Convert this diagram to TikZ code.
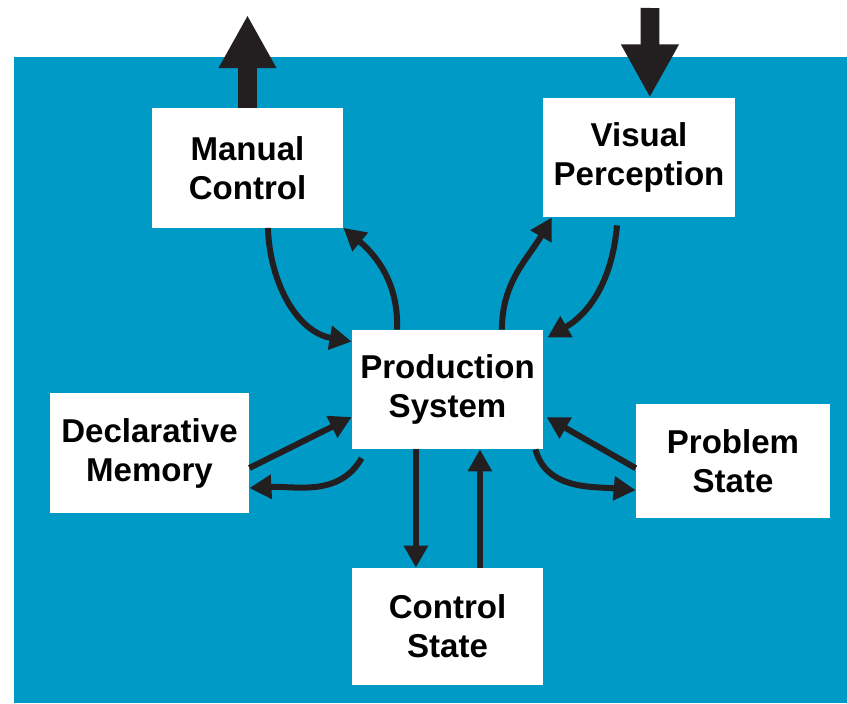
\documentclass[tikz,border=0pt]{standalone}
\usepackage{fontspec}
\setmainfont{Liberation Sans}
\usetikzlibrary{arrows.meta}
\definecolor{panelblue}{RGB}{0,154,199}
\definecolor{arrowgray}{RGB}{35,31,32}

\begin{document}
\begin{tikzpicture}[x=0.025cm, y=-0.025cm, >={Triangle[length=0.55cm, width=0.58cm]},
                    box/.style={fill=white, align=center, inner sep=0pt, minimum width=4.78cm, minimum height=2.98cm,
                                font=\fontsize{23.5}{27.7}\selectfont\bfseries},
                    link/.style={->, draw=arrowgray, line width=0.15cm},
                    bigarrow/.style={-{Triangle[length=1.33cm, width=1.35cm]}, draw=arrowgray, line width=0.47cm}]
        \useasboundingbox (0,0) rectangle (847,703);
        \fill[panelblue] (13.5,57) rectangle (847,703);
        \node[box] (manual) at (247.5,168) {Manual\\Control};
        \node[box] (visual) at (639,157.5) {Visual\\Perception};
        \node[box] (production) at (447.5,389.5) {Production\\System};
        \node[box, minimum width=4.98cm] (declarative) at (149.5,453) {Declarative\\Memory};
        \node[box, minimum width=4.85cm, minimum height=2.85cm] (problem) at (733,461) {Problem\\State};
        \node[box, minimum height=2.93cm] (control) at (447.5,626.5) {Control\\State};
        \coordinate (motor) at (247.5,15);
        \coordinate (screen) at (650,8);
        \draw[bigarrow] (manual.north) -- (motor);
        \draw[bigarrow] (screen) -- ([xshift=0.27cm]visual.north);
        \draw[link] ([xshift=0.51cm]manual.south) to [out=-88, in=170] ([yshift=-0.3cm]production.north west);
        \draw[link] ([xshift=-1.26cm]production.north) to [out=88, in=-40] (manual.south east);
        \draw[link] ([xshift=1.36cm]production.north) to [out=90, in=-120] ([xshift=0.22cm]visual.south west);
        \draw[link] ([xshift=-0.55cm, yshift=-0.2cm]visual.south) to [out=-95, in=30] ([xshift=0.1cm, yshift=-0.2cm]production.north east);
        \draw[link] ([yshift=-0.375cm]declarative.east) -- ([yshift=-0.69cm]production.west);
        \draw[link] ([xshift=0.25cm, yshift=-0.22cm]production.south west) to [out=-120, in=3] ([yshift=-0.875cm]declarative.east);
        \draw[link] ([xshift=-0.79cm]production.south) -- ([xshift=-0.79cm]control.north);
        \draw[link] ([xshift=0.81cm]control.north) -- ([xshift=0.81cm]production.south);
        \draw[link] ([yshift=-0.18cm]problem.west) -- ([xshift=0.08cm, yshift=-0.69cm]production.east);
        \draw[link] ([xshift=-0.2cm]production.south east) to [out=-75, in=175] ([yshift=-0.73cm]problem.west);
    \end{tikzpicture}
\end{document}
